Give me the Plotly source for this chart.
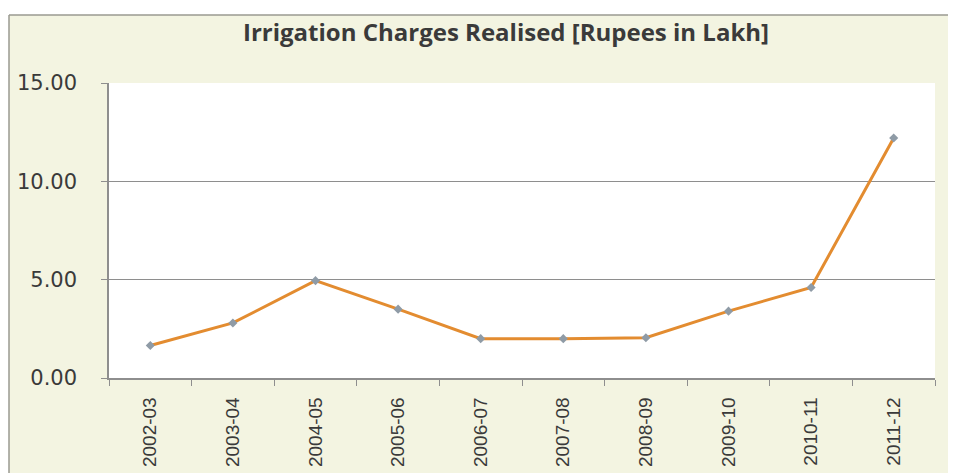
import plotly.graph_objects as go

categories = ["2002-03", "2003-04", "2004-05", "2005-06", "2006-07",
              "2007-08", "2008-09", "2009-10", "2010-11", "2011-12"]
values = [1.65, 2.80, 4.95, 3.50, 2.00, 2.00, 2.05, 3.40, 4.60, 12.20]
y_ticks = [0, 5, 10, 15]
y_tick_labels = ["0.00", "5.00", "10.00", "15.00"]
title_text = "Irrigation Charges Realised [Rupees in Lakh]"

# page has an 8px body margin; target positions are in window pixels
OFF = 8
W, H = 956 - OFF, 473 - OFF
PLOT_L, PLOT_R, PLOT_T, PLOT_B = 109, 935, 83, 378  # window pixels
ML = PLOT_L - OFF
MR = W - (PLOT_R - OFF)
MT = PLOT_T - OFF
MB = H - (PLOT_B - OFF)
pw = W - ML - MR
ph = H - MT - MB

def px_to_paper_x(px):
    return (px - OFF - ML) / pw

def px_to_paper_y(py):
    return (H - MB - (py - OFF)) / ph

beige = "#f3f4e1"
grid = "#8e8e8e"
textc = "#3a3a3a"

fig = go.Figure()
fig.add_trace(go.Scatter(
    x=categories, y=values, mode="lines+markers",
    line=dict(color="#e38c30", width=3),
    marker=dict(symbol="diamond", size=7, color="#8f9ba6"),
    showlegend=False, hoverinfo="skip",
))

shapes = [
    dict(type="rect", xref="paper", yref="paper", layer="below",
         x0=px_to_paper_x(-10), x1=px_to_paper_x(W + 30),
         y0=px_to_paper_y(15), y1=px_to_paper_y(-10),
         fillcolor="white", line=dict(width=0)),
    dict(type="rect", xref="paper", yref="paper", layer="below",
         x0=px_to_paper_x(-10), x1=px_to_paper_x(9),
         y0=px_to_paper_y(H + 30), y1=px_to_paper_y(15),
         fillcolor="white", line=dict(width=0)),
    dict(type="line", xref="paper", yref="paper",
         x0=px_to_paper_x(9), x1=px_to_paper_x(W + 30),
         y0=px_to_paper_y(15), y1=px_to_paper_y(15),
         line=dict(color="#9a9a90", width=1.5)),
    dict(type="line", xref="paper", yref="paper",
         x0=px_to_paper_x(9), x1=px_to_paper_x(9),
         y0=px_to_paper_y(15), y1=px_to_paper_y(H + 30),
         line=dict(color="#9a9a90", width=1.5)),
]

fig.update_layout(
    width=W, height=H,
    margin=dict(l=ML, r=MR, t=MT, b=MB),
    paper_bgcolor=beige,
    plot_bgcolor="white",
    shapes=shapes,
    title=dict(
        text="<b>" + title_text + "</b>",
        x=(506 - OFF) / W, xanchor="center",
        y=1 - (33 - OFF) / H, yanchor="middle",
        font=dict(family="Open Sans", size=24, color=textc),
    ),
    xaxis=dict(
        type="category",
        categoryorder="array", categoryarray=categories,
        range=[-0.5, len(categories) - 0.5],
        tickson="boundaries",
        ticks="outside", ticklen=6, tickcolor=grid,
        showline=True, linecolor=grid, linewidth=1.5,
        showgrid=False,
        tickangle=-90,
        ticklabelstandoff=10,
        automargin=False,
        tickfont=dict(family="Liberation Sans", size=19, color=textc),
    ),
    yaxis=dict(
        range=[0, 15],
        tickvals=y_ticks, ticktext=y_tick_labels,
        ticks="outside", ticklen=6, tickcolor=grid,
        showline=True, linecolor=grid, linewidth=1.5,
        showgrid=True, gridcolor=grid, gridwidth=1.2,
        zeroline=False,
        ticklabelstandoff=20,
        automargin=False,
        tickfont=dict(family="DejaVu Sans", size=21, color=textc),
    ),
)

fig.write_html("out.html")
